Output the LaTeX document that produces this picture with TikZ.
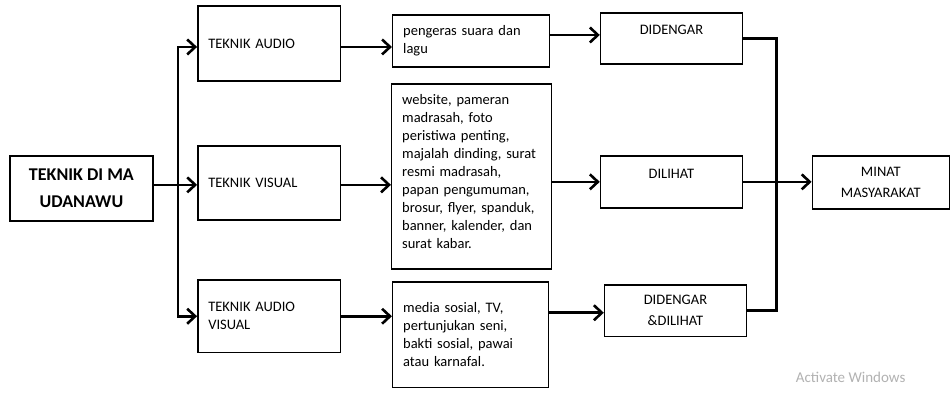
\documentclass[tikz,border=0pt]{standalone}
\usepackage{fontspec}
\setmainfont{Carlito}
\usetikzlibrary{arrows.meta}
\begin{document}
\begin{tikzpicture}[x=1pt,y=-1pt,
  lbox/.style={draw, line width=1.5pt, inner xsep=10.5pt, inner ysep=0pt, align=left,
    font=\fontsize{14.5}{18}\selectfont},
  cbox/.style={draw, line width=1.5pt, inner xsep=4pt, inner ysep=0pt, align=center,
    font=\fontsize{14.5}{21}\selectfont},
  flow/.style={line width=2.6pt, -{Straight Barb[length=8pt,width=15pt]}},
  link/.style={line width=2.6pt, line join=miter}
]
% canvas
\path[fill=white] (0,0) rectangle (950,393);

% source box
\node[draw, line width=1.5pt, minimum width=143pt, minimum height=65pt, align=center,
  font=\fontsize{18}{27}\selectfont\bfseries] (main) at (81.5,188.5) {TEKNIK DI MA\\UDANAWU};

% techniques
\node[lbox, text width=122pt, minimum height=75pt] (aud) at (269.5,43.5) {TEKNIK AUDIO};
\node[lbox, text width=122pt, minimum height=74pt] (vis) at (269.5,183) {TEKNIK VISUAL};
\node[lbox, text width=122pt, minimum height=73pt] (av) at (269.5,316.5) {TEKNIK AUDIO\\VISUAL};

% media
\node[lbox, text width=136pt, minimum height=52pt] (peng) at (471.5,41) {pengeras suara dan\\lagu};
\node[lbox, text width=139pt, minimum height=185pt] (web) at (472,176.5)
  {website, pameran\\madrasah, foto\\peristiwa penting,\\majalah dinding, surat\\resmi madrasah,\\papan pengumuman,\\brosur, flyer, spanduk,\\banner, kalender, dan\\surat kabar.\\[-9pt]\mbox{}};
\node[lbox, text width=135pt, minimum height=106pt] (media) at (471,335)
  {media sosial, TV,\\pertunjukan seni,\\bakti sosial, pawai\\atau karnafal.};

% senses
\node[cbox, text width=134pt, minimum height=51pt] (dg) at (672,38.5) {DIDENGAR\\[-4pt]~};
\node[cbox, text width=134pt, minimum height=52pt] (dl) at (672,182) {DILIHAT\\[-4pt]~};
\node[cbox, text width=134pt, minimum height=52pt] (dd) at (676,311) {DIDENGAR\\\&DILIHAT};

% result
\node[cbox, text width=129pt, minimum height=53pt] (minat) at (881.5,182.5) {MINAT\\MASYARAKAT};

% left distribution bus
\coordinate (lb) at (178,185);
\draw[flow] (main.east |- lb) -- (vis.west |- lb);
\draw[flow] (lb) |- ([yshift=-3.5pt]aud.west);
\draw[flow] (lb) |- (av.west);

% technique to media
\draw[flow] ([yshift=-3.5pt]aud.east) -- ([yshift=-3.5pt]aud.east -| peng.west);
\draw[flow] ([yshift=-2pt]vis.east) -- ([yshift=-2pt]vis.east -| web.west);
\draw[flow] (av.east) -- (av.east -| media.west);

% media to senses
\draw[flow] ([yshift=3.5pt]dg.west -| peng.east) -- ([yshift=3.5pt]dg.west);
\draw[flow] (dl.west -| web.east) -- (dl.west);
\draw[flow] ([yshift=-2pt]dd.west -| media.east) -- ([yshift=-2pt]dd.west);

% right collecting bus
\coordinate (rb) at (777,0);
\draw[link] (dg.east) -| (rb |- dd.east) -- (dd.east);
\draw[flow] (dl.east) -- (dl.east -| minat.west);

% watermark text
\node[anchor=west, text=black!30, font=\fontsize{15}{18}\selectfont] (aw) at (793,378) {Activate Windows};
\end{tikzpicture}
\end{document}
